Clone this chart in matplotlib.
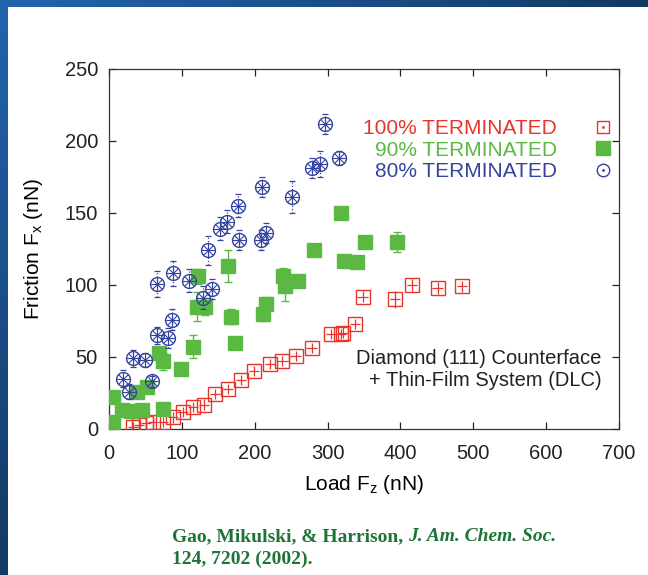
import numpy as np
import matplotlib.pyplot as plt
from matplotlib.lines import Line2D
from matplotlib.legend_handler import HandlerTuple
from matplotlib.colors import LinearSegmentedColormap

plt.rcParams['font.family'] = ['Liberation Sans', 'DejaVu Sans']

# 100% terminated (open squares)
load_100 = [33, 41, 51, 60, 74, 88, 101, 115, 130, 145, 163, 181, 199, 221, 238,
            256, 278, 305, 318, 321, 338, 348, 393, 416, 451, 484]
fric_100 = [1.5, 3, 4, 5, 5, 8, 12, 15, 17, 24, 28, 34, 40, 45, 47,
            51, 56, 66, 66, 67, 73, 92, 90, 100, 98, 99]
xerr_100 = [7] * 26
yerr_100 = [3.5, 3.5, 3.5, 3.5, 3.5, 3.5, 3.5, 3.5, 3.5, 3.5, 3.5, 3.5, 3.5, 3.5, 3.5,
            3.5, 3.5, 3.5, 3.5, 3.5, 3.5, 4, 6, 4, 4, 4]

# 90% terminated (filled squares)
load_90 = [5, 5, 18, 30, 45, 74, 38, 52, 68, 74, 99, 115, 122, 121, 132,
           164, 167, 173, 216, 212, 239, 241, 260, 282, 318, 322, 340, 351, 395]
fric_90 = [22, 5, 13, 12.5, 13, 14, 26, 29, 53, 47, 42, 57, 106, 85, 85,
           113, 78, 60, 87, 80, 106, 99, 103, 124, 150, 117, 116, 130, 130]
yerr_90 = [3, 3, 3, 3, 3, 3, 3, 3, 4, 6, 3, 8, 5, 10, 6,
           11, 5, 4, 5, 5, 6, 10, 3, 3, 3, 3, 3, 4, 7]

# 80% terminated (open circles)
load_80 = [19, 27, 33, 49, 59, 66, 81, 86, 66, 88, 110, 129, 142, 136, 153,
           162, 177, 178, 208, 215, 210, 251, 278, 289, 296, 316]
fric_80 = [35, 26, 49, 48, 33, 65, 63, 76, 101, 108, 103, 91, 97, 124, 139,
           144, 155, 131, 131, 136, 168, 161, 181, 184, 212, 188]
yerr_80 = [6, 5, 6, 5, 4, 6, 7, 7, 9, 9, 8, 8, 7, 10, 8,
           8, 8, 7, 7, 7, 7, 11, 7, 9, 7, 5]

red = '#e8352c'
green = '#5bb943'
blue = '#34449e'

fig = plt.figure(figsize=(6.48, 5.75), dpi=100)
fig.patch.set_facecolor('white')

# blue slide frame (left and top strips)
frame_cmap = LinearSegmentedColormap.from_list('frame', ['#2264ae', '#1b4f8a', '#123a62'])
ax_l = fig.add_axes([0, 0, 8 / 648, 1])
ax_l.imshow(np.linspace(0, 1, 100).reshape(-1, 1), cmap=frame_cmap, aspect='auto')
ax_l.axis('off')
ax_t = fig.add_axes([0, 1 - 7 / 575, 1, 7 / 575])
ax_t.imshow(np.linspace(0, 0.3, 100).reshape(1, -1), cmap=frame_cmap, aspect='auto')
ax_t.axis('off')

ax = fig.add_axes([109 / 648, 1 - 429 / 575, 510 / 648, 360 / 575])

# 100%
ax.errorbar(load_100, fric_100, xerr=xerr_100, yerr=yerr_100, fmt='s', ms=9.5,
            mfc='none', mec=red, mew=1.0, ecolor=red, elinewidth=0.9, capsize=0, zorder=3)

# 90%
ax.errorbar(load_90, fric_90, yerr=yerr_90, fmt='s', ms=10, mfc=green, mec=green,
            ecolor=green, elinewidth=1.0, capsize=3, capthick=1.0, zorder=4)

# 80%
eb = ax.errorbar(load_80, fric_80, yerr=yerr_80, fmt='none', ecolor=blue,
                 elinewidth=0.9, capsize=2.5, capthick=0.9, zorder=5)
eb[2][0].set_linestyle(':')
ax.plot(load_80, fric_80, 'o', ms=10, mfc='none', mec=blue, mew=1.0, zorder=6)
ax.plot(load_80, fric_80, '+', ms=9.5, color=blue, mew=0.8, zorder=6)
ax.plot(load_80, fric_80, 'x', ms=6.5, color=blue, mew=0.8, zorder=6)

ax.set_xlim(0, 700)
ax.set_ylim(0, 250)
ax.set_xticks(range(0, 701, 100))
ax.set_yticks(range(0, 251, 50))
ax.tick_params(direction='in', top=True, right=True, length=5, width=0.9,
               labelsize=14.5, pad=8, colors='#222222')
ax.tick_params(axis='x', pad=11)
for s in ax.spines.values():
    s.set_linewidth(0.9)
    s.set_color('#333333')

ax.set_xlabel('Load F$_\\mathregular{z}$ (nN)', fontsize=15, labelpad=7)
ax.set_ylabel('Friction F$_\\mathregular{x}$ (nN)', fontsize=15, labelpad=14)

# legend (text left of marker, right aligned)
h100 = (Line2D([], [], ls='none', marker='s', ms=8.5, mfc='none', mec=red, mew=1.0),
        Line2D([], [], ls='none', marker='.', ms=2, color=red))
h90 = Line2D([], [], ls='none', marker='s', ms=9.5, mfc=green, mec=green)
h80 = (Line2D([], [], ls='none', marker='o', ms=9, mfc='none', mec=blue, mew=1.0),
       Line2D([], [], ls='none', marker='.', ms=2, color=blue))
ax.legend([h100, h90, h80],
          ['100% TERMINATED', '90% TERMINATED', '80% TERMINATED'],
          handler_map={tuple: HandlerTuple(ndivide=1)},
          markerfirst=False, frameon=False, fontsize=15, labelcolor=[red, green, blue],
          loc='upper right', bbox_to_anchor=(0.993, 0.861), borderpad=0,
          borderaxespad=0, labelspacing=0.12, handlelength=1.2, handletextpad=1.6)

ax.text(0.965, 0.165, 'Diamond (111) Counterface\n+ Thin-Film System (DLC)',
        transform=ax.transAxes, ha='right', va='center', fontsize=14.5,
        linespacing=1.15, color='#222222')

# citation
cite_color = '#1d7438'
t1 = fig.text(172 / 648, 1 - 541 / 575, 'Gao, Mikulski, & Harrison, ', fontsize=14,
              family='Liberation Serif', weight='bold', color=cite_color)
fig.canvas.draw()
bb = t1.get_window_extent()
fig.text(bb.x1 / fig.bbox.width, 1 - 541 / 575, 'J. Am. Chem. Soc.', fontsize=14,
         family='Liberation Serif', weight='bold', style='italic', color=cite_color)
fig.text(172 / 648, 1 - 564 / 575, '124, 7202 (2002).', fontsize=14,
         family='Liberation Serif', weight='bold', color=cite_color)

fig.savefig('out.png', dpi=100)
